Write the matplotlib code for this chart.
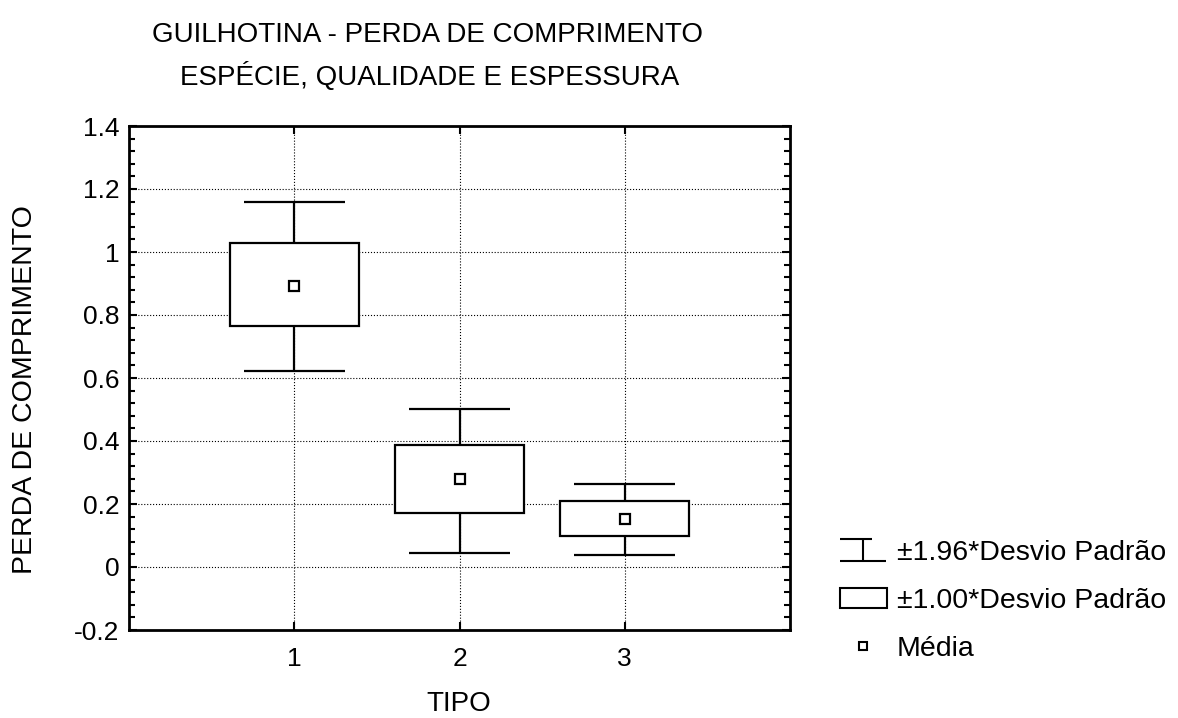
import numpy as np
import matplotlib
matplotlib.use('Agg')
import matplotlib.pyplot as plt
from matplotlib.lines import Line2D
from matplotlib.patches import Patch
from matplotlib.path import Path
from matplotlib.ticker import MultipleLocator, FuncFormatter

plt.rcParams['font.family'] = ['Liberation Sans', 'DejaVu Sans']
plt.rcParams['axes.unicode_minus'] = False

# valores
tipos = [1, 2, 3]
media = [0.893, 0.279, 0.152]
caixa_inf = [0.766, 0.171, 0.100]   # media - 1.00*DP
caixa_sup = [1.029, 0.387, 0.210]   # media + 1.00*DP
bigode_inf = [0.622, 0.045, 0.038]  # media - 1.96*DP
bigode_sup = [1.160, 0.502, 0.263]  # media + 1.96*DP

fig = plt.figure(figsize=(11.78, 7.18), dpi=100)
ax = fig.add_axes([129/1178, 1 - 630/718, (790 - 129)/1178, (630 - 126)/718])

lw = 1.6

# bigodes (±1.96 DP)
ax.vlines(tipos, bigode_inf, bigode_sup, color='black', lw=lw, zorder=2)
ax.hlines(bigode_inf, np.array(tipos) - 0.305, np.array(tipos) + 0.305, color='black', lw=lw, zorder=2)
ax.hlines(bigode_sup, np.array(tipos) - 0.305, np.array(tipos) + 0.305, color='black', lw=lw, zorder=2)

# caixas (±1.00 DP)
alt = np.array(caixa_sup) - np.array(caixa_inf)
ax.bar(tipos, alt, bottom=caixa_inf, width=0.78, facecolor='white',
       edgecolor='black', linewidth=lw, zorder=3)

# media
ax.plot(tipos, media, ls='none', marker='s', ms=7, mfc='white', mec='black', mew=1.6, zorder=4)

ax.set_xlim(0, 4)
ax.set_ylim(-0.2, 1.4)
ax.set_xticks(tipos)
ax.yaxis.set_major_locator(MultipleLocator(0.2))
ax.yaxis.set_minor_locator(MultipleLocator(0.04))
ax.yaxis.set_major_formatter(FuncFormatter(lambda v, p: '%g' % round(v, 2)))
ax.grid(True, which='major', ls=':', color='black', lw=0.8, zorder=0)
ax.set_axisbelow(True)
ax.tick_params(which='both', direction='in', top=True, right=True, labelsize=19, width=1.5)
ax.tick_params(which='major', length=6, pad=7)
ax.tick_params(which='minor', length=4)
ax.tick_params(axis='x', pad=12)
for s in ax.spines.values():
    s.set_linewidth(2)

fig.text(459/1178, 1 - 704/718, 'TIPO', ha='center', va='center', fontsize=20)
fig.text(25/1178, 1 - 390/718, 'PERDA DE COMPRIMENTO', ha='center', va='center',
         rotation=90, fontsize=20.5)

fig.text(428/1178, 1 - 35/718, 'GUILHOTINA - PERDA DE COMPRIMENTO', ha='center', va='center', fontsize=20)
fig.text(430/1178, 1 - 77/718, 'ESPÉCIE, QUALIDADE E ESPESSURA', ha='center', va='center', fontsize=20)

# legenda
simbolo_bigode = Path([(-1, 0.5), (0.4, 0.5), (0, 0.5), (0, -0.5), (-1, -0.5), (1, -0.5)],
                      [Path.MOVETO, Path.LINETO, Path.MOVETO, Path.LINETO, Path.MOVETO, Path.LINETO])
h1 = Line2D([], [], ls='none', marker=simbolo_bigode, ms=33, mfc='none', mec='black', mew=1.5)
h2 = Patch(facecolor='white', edgecolor='black', linewidth=1.5)
h3 = Line2D([], [], ls='none', marker='s', ms=6, mfc='white', mec='black', mew=1.5)
fig.legend([h1, h2, h3], ['±1.96*Desvio Padrão', '±1.00*Desvio Padrão', 'Média'],
           loc='upper left', bbox_to_anchor=(820/1178, 1 - 520/718), frameon=False,
           fontsize=20.5, handlelength=1.65, handleheight=0.75, labelspacing=0.75,
           handletextpad=0.35, borderpad=0.2)

fig.savefig('out.png', dpi=100)
